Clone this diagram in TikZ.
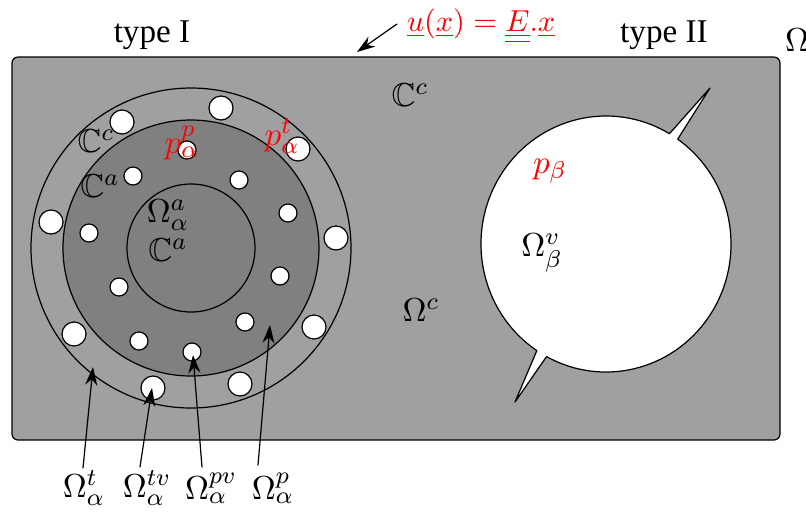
\documentclass[tikz,border=0pt]{standalone}
\usepackage{fontspec}
\setmainfont{Liberation Serif}
\usepackage{amssymb}
\usetikzlibrary{calc,arrows.meta}
\definecolor{matrixgray}{RGB}{160,160,160}
\definecolor{phasegray}{RGB}{128,128,128}
\tikzset{
  hole/.style={draw, fill=white},
  lab/.style={font=\fontsize{10.95}{13}\selectfont},
  redlab/.style={lab, text=red},
}
\begin{document}
\begin{tikzpicture}[>={Stealth[length=6pt,width=4pt]}, x=0.33pt, y=-0.33pt, line join=round, line cap=round]
  \useasboundingbox (0,0) rectangle (806,515);
  \def\cx{191} \def\cy{248}
  % matrix
  \draw[fill=matrixgray, rounded corners=2pt] (12,57) rectangle (780,440);
  % type I
  \coordinate (incl) at (\cx,\cy);
  \draw (incl) circle[radius=160];
  \draw[fill=phasegray] (incl) circle[radius=128];
  \draw (incl) circle[radius=64];
  \foreach \x/\y in {221/108, 122/122, 298/149, 51/222, 336/238, 74/334, 314/327, 153/388, 240/384}
    \draw[hole] (\x,\y) circle[radius=12];
  \foreach \x/\y in {187/150, 133/176, 239/180, 288/213, 89/233, 280/276, 119/287, 245/322, 139/341, 192/352}
    \draw[hole] (\x,\y) circle[radius=9];
  % type II
  \coordinate (blob) at (606,244);
  \coordinate (uptip) at (710,88);
  \coordinate (lowtip) at (515,402);
  \draw[fill=white] ($(blob)+(-55:125 and 128)$)
    arc[start angle=-55, end angle=118.4, x radius=125, y radius=128] -- (lowtip)
    -- ($(blob)+(123.6:125 and 128)$)
    arc[start angle=123.6, end angle=300.5, x radius=125, y radius=128] -- (uptip) -- cycle;
  % labels
  \node[lab] (typeI) at (152,35) {type I};
  \node[lab] (typeII) at (664,35) {type II};
  \node[lab] (omega) at (797,40) {$\Omega$};
  \node[redlab, font=\fontsize{10}{12}\selectfont] (ulaw) at (481,26) {$\underline{u}(\underline{x})=\underline{\underline{E}}.\underline{x}$};
  \coordinate (ustart) at (397,24);
  \coordinate (utip) at (357,52);
  \draw[->] (ustart) -- (utip);
  \node[lab] (Cc1) at (96,141) {$\mathbb{C}^c$};
  \node[lab] (Ca1) at (100,186) {$\mathbb{C}^a$};
  \node[lab] (Oa) at (168,215) {$\Omega^a_\alpha$};
  \node[lab] (Ca2) at (168,250) {$\mathbb{C}^a$};
  \node[redlab] (ppa) at (182,143) {$p^p_\alpha$};
  \node[redlab] (pta) at (282,136) {$p^t_\alpha$};
  \node[lab] (Cc2) at (410,95) {$\mathbb{C}^c$};
  \node[lab] (Oc) at (421,310) {$\Omega^c$};
  \node[redlab] (pb) at (550,171) {$p_\beta$};
  \node[lab] (Ovb) at (542,253) {$\Omega^v_\beta$};
  % phases
  \node[lab] (Ot) at (84,488) {$\Omega^t_\alpha$};
  \node[lab] (Otv) at (147,488) {$\Omega^{tv}_\alpha$};
  \node[lab] (Opv) at (211,488) {$\Omega^{pv}_\alpha$};
  \node[lab] (Op) at (273,488) {$\Omega^p_\alpha$};
  \coordinate (Ot-s) at (83,468);   \coordinate (Ot-e) at (93,367);
  \coordinate (Otv-s) at (140,467); \coordinate (Otv-e) at (152,388);
  \coordinate (Opv-s) at (202,467); \coordinate (Opv-e) at (193,355);
  \coordinate (Op-s) at (258,465);  \coordinate (Op-e) at (270,325);
  \foreach \p in {Ot,Otv,Opv,Op}
    \draw[->] (\p-s) -- (\p-e);
\end{tikzpicture}
\end{document}
